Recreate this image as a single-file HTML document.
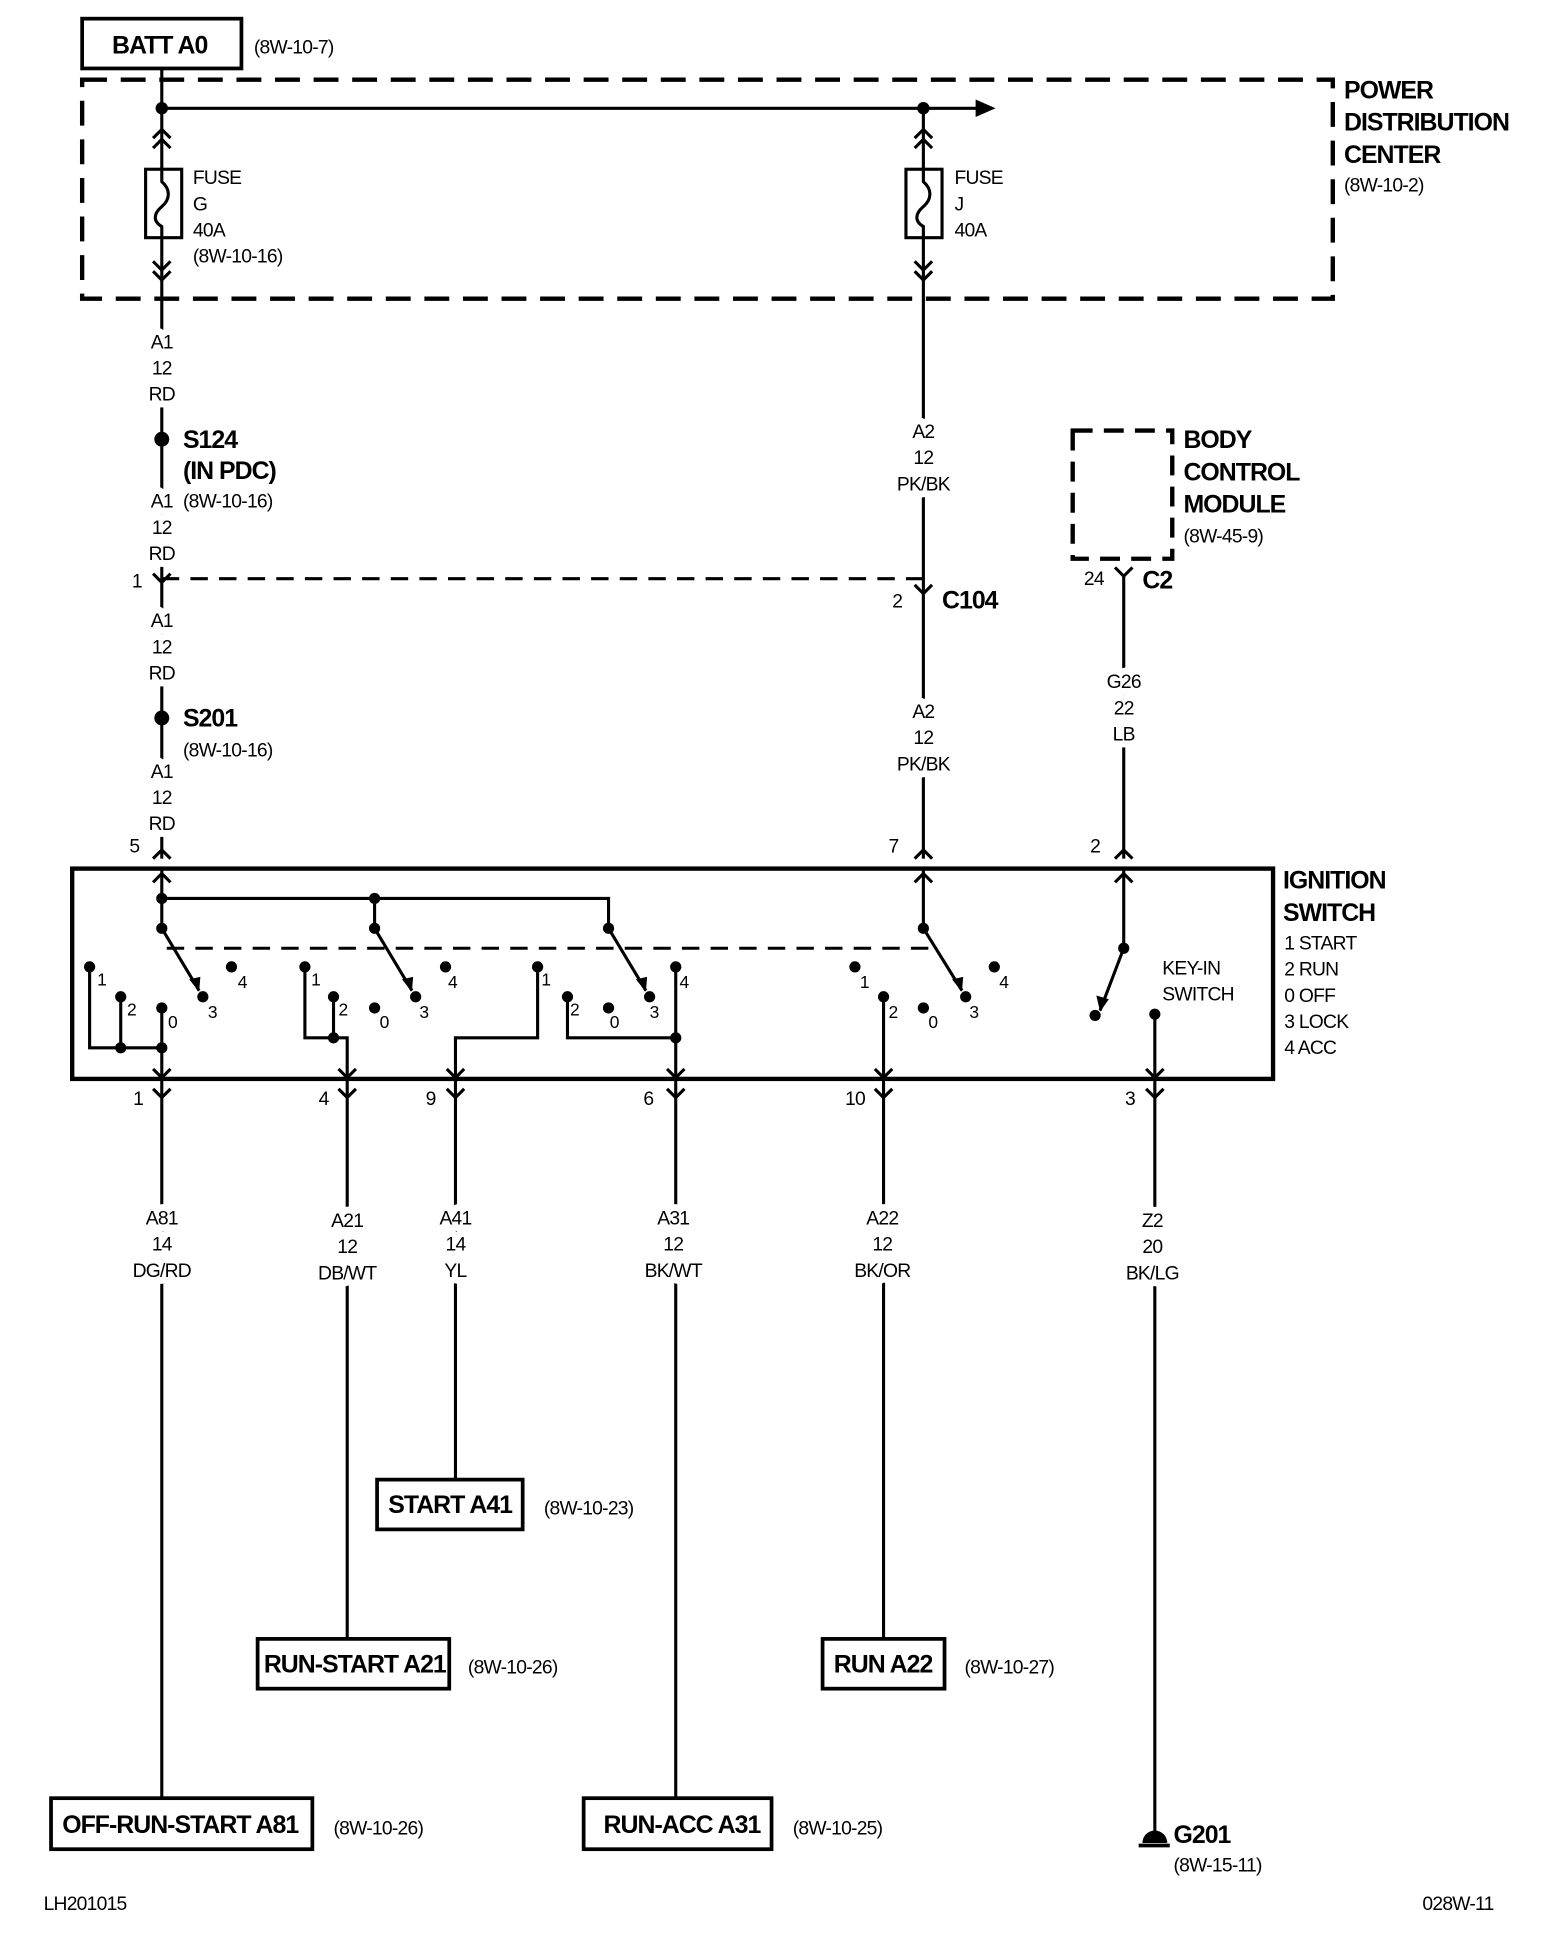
<!DOCTYPE html>
<html><head><meta charset="utf-8"><style>
html,body{margin:0;padding:0;background:#fff}
svg{display:block}
text{font-family:"Liberation Sans",sans-serif;fill:#000}
.s{font-size:15.5px;letter-spacing:-0.6px}
.b{font-size:20px;font-weight:bold;letter-spacing:-0.8px}
.c{text-anchor:middle}
.c text{stroke:#fff;stroke-width:11px;paint-order:stroke;stroke-linejoin:round}
</style></head><body>
<svg width="1568" height="1950" viewBox="0 0 1260 1567" xmlns="http://www.w3.org/2000/svg">
<g fill="none" stroke="#000" stroke-width="2.5">
<rect x="66" y="15" width="128" height="40" stroke-width="3"/>
<rect x="66" y="64" width="1005" height="176" stroke-width="3.5" stroke-dasharray="20,11"/>
<line x1="130" y1="55" x2="130" y2="690"/>
<line x1="130" y1="87" x2="790" y2="87"/>
<line x1="742" y1="87" x2="742" y2="690"/>
<rect x="117" y="136" width="29" height="55" fill="#fff"/>
<path d="M130 136 V146 C137 152 137 160 130 166 C123 172 123 178 130 182 V191"/>
<path d="M123 111 L130 104 L137 111 M123 119 L130 112 L137 119"/>
<path d="M123 210 L130 217 L137 210 M123 218 L130 225 L137 218"/>
<rect x="728" y="136" width="29" height="55" fill="#fff"/>
<path d="M742 136 V146 C749 152 749 160 742 166 C735 172 735 178 742 182 V191"/>
<path d="M735 111 L742 104 L749 111 M735 119 L742 112 L749 119"/>
<path d="M735 210 L742 217 L749 210 M735 218 L742 225 L749 218"/>
<line x1="130" y1="465" x2="742" y2="465" stroke-dasharray="14,9"/>
<path d="M123 461 L130 468 L137 461"/>
<path d="M735 470 L742 477 L749 470"/>
<rect x="862" y="346" width="80" height="103" stroke-width="3.5" stroke-dasharray="16,9"/>
<line x1="903" y1="463" x2="903" y2="690"/>
<path d="M896 456 L903 463 L910 456"/>
<path d="M123 690 L130 683 L137 690"/>
<path d="M735 690 L742 683 L749 690"/>
<path d="M896 690 L903 683 L910 690"/>
<rect x="58" y="698" width="965" height="169" stroke-width="3.5"/>
<path d="M123 709 L130 702 L137 709"/>
<path d="M735 709 L742 702 L749 709"/>
<path d="M896 709 L903 702 L910 709"/>
<line x1="130" y1="698" x2="130" y2="746"/>
<polyline points="130,722 489,722 489,746"/>
<line x1="301" y1="722" x2="301" y2="746"/>
<line x1="742" y1="698" x2="742" y2="746"/>
<line x1="903" y1="698" x2="903" y2="762"/>
<line x1="134" y1="762" x2="749" y2="762" stroke-dasharray="14,9"/>
<line x1="130" y1="746" x2="160" y2="796"/>
<line x1="301" y1="746" x2="331" y2="796"/>
<line x1="489" y1="746" x2="519" y2="796"/>
<line x1="742" y1="746" x2="773" y2="796"/>
<line x1="903" y1="762" x2="884" y2="812"/>
<polyline points="72,777 72,842 130,842"/>
<line x1="97" y1="801" x2="97" y2="842"/>
<line x1="130" y1="810" x2="130" y2="867"/>
<polyline points="245,777 245,834 279,834 279,867"/>
<line x1="268" y1="801" x2="268" y2="834"/>
<polyline points="432,777 432,834 366,834 366,867"/>
<polyline points="456,801 456,834 543,834"/>
<line x1="543" y1="777" x2="543" y2="867"/>
<line x1="710" y1="801" x2="710" y2="867"/>
<line x1="928" y1="815" x2="928" y2="867"/>
<path d="M123 859 L130 866 L137 859 M272 859 L279 866 L286 859 M359 859 L366 866 L373 859 M536 859 L543 866 L550 859 M703 859 L710 866 L717 859 M921 859 L928 866 L935 859"/>
<path d="M123 875 L130 882 L137 875 M272 875 L279 882 L286 875 M359 875 L366 882 L373 875 M536 875 L543 882 L550 875 M703 875 L710 882 L717 875 M921 875 L928 882 L935 875"/>
<line x1="130" y1="867" x2="130" y2="1445"/>
<line x1="279" y1="867" x2="279" y2="1317"/>
<line x1="366" y1="867" x2="366" y2="1189"/>
<line x1="543" y1="867" x2="543" y2="1445"/>
<line x1="710" y1="867" x2="710" y2="1317"/>
<line x1="928" y1="867" x2="928" y2="1472"/>
<rect x="303" y="1189" width="117" height="40" stroke-width="3"/>
<rect x="207" y="1317" width="154" height="40" stroke-width="3"/>
<rect x="661" y="1317" width="98" height="40" stroke-width="3"/>
<rect x="41" y="1445" width="210" height="41" stroke-width="3"/>
<rect x="469" y="1445" width="151" height="41" stroke-width="3"/>
<line x1="915" y1="1483" x2="940" y2="1483" stroke-width="3"/>
</g>
<g fill="#000">
<polygon points="800,87 784,80 784,94"/>
<circle cx="130" cy="87" r="5"/><circle cx="742" cy="87" r="5"/>
<circle cx="130" cy="353" r="6"/><circle cx="130" cy="577" r="6"/>
<circle cx="130" cy="722" r="4.5"/><circle cx="301" cy="722" r="4.5"/>
<circle cx="130" cy="746" r="4.5"/><circle cx="301" cy="746" r="4.5"/><circle cx="489" cy="746" r="4.5"/>
<circle cx="742" cy="746" r="4.5"/><circle cx="903" cy="762" r="4.5"/>
<circle cx="72" cy="777" r="4.5"/><circle cx="97" cy="801" r="4.5"/><circle cx="130" cy="810" r="4.5"/><circle cx="163" cy="801" r="4.5"/><circle cx="186" cy="777" r="4.5"/>
<circle cx="97" cy="842" r="4.5"/><circle cx="130" cy="842" r="4.5"/>
<circle cx="245" cy="777" r="4.5"/><circle cx="268" cy="801" r="4.5"/><circle cx="301" cy="810" r="4.5"/><circle cx="334" cy="801" r="4.5"/><circle cx="358" cy="777" r="4.5"/>
<circle cx="268" cy="834" r="4.5"/>
<circle cx="432" cy="777" r="4.5"/><circle cx="456" cy="801" r="4.5"/><circle cx="489" cy="810" r="4.5"/><circle cx="522" cy="801" r="4.5"/><circle cx="543" cy="777" r="4.5"/>
<circle cx="543" cy="834" r="4.5"/>
<circle cx="687" cy="777" r="4.5"/><circle cx="710" cy="801" r="4.5"/><circle cx="742" cy="810" r="4.5"/><circle cx="776" cy="801" r="4.5"/><circle cx="799" cy="777" r="4.5"/>
<circle cx="880" cy="816" r="4.5"/><circle cx="928" cy="815" r="4.5"/>
<polygon points="160,797 152,787 161,785"/><polygon points="331,797 323,787 332,785"/><polygon points="519,797 511,787 520,785"/><polygon points="773,797 765,787 774,785"/><polygon points="884,813 881,800 891,803"/>
<path d="M918 1481 A10 10 0 0 1 938 1481 Z"/>
</g>
<text class="b" x="90" y="43">BATT A0</text>
<text class="s" x="204" y="43">(8W-10-7)</text>
<text class="b" x="1080" y="79">POWER</text>
<text class="b" x="1080" y="105">DISTRIBUTION</text>
<text class="b" x="1080" y="131">CENTER</text>
<text class="s" x="1080" y="154">(8W-10-2)</text>
<text class="s" x="155" y="148">FUSE</text><text class="s" x="155" y="169">G</text><text class="s" x="155" y="190">40A</text><text class="s" x="155" y="211">(8W-10-16)</text>
<text class="s" x="767" y="148">FUSE</text><text class="s" x="767" y="169">J</text><text class="s" x="767" y="190">40A</text>
<g class="s c">
<text x="130" y="280">A1</text><text x="130" y="301">12</text><text x="130" y="322">RD</text>
<text x="130" y="408">A1</text><text x="130" y="429">12</text><text x="130" y="450">RD</text>
<text x="130" y="504">A1</text><text x="130" y="525">12</text><text x="130" y="546">RD</text>
<text x="130" y="625">A1</text><text x="130" y="646">12</text><text x="130" y="667">RD</text>
<text x="742" y="352">A2</text><text x="742" y="373">12</text><text x="742" y="394">PK/BK</text>
<text x="742" y="577">A2</text><text x="742" y="598">12</text><text x="742" y="619">PK/BK</text>
<text x="903" y="553">G26</text><text x="903" y="574">22</text><text x="903" y="595">LB</text>
<text x="130" y="984">A81</text><text x="130" y="1005">14</text><text x="130" y="1026">DG/RD</text>
<text x="279" y="986">A21</text><text x="279" y="1007">12</text><text x="279" y="1028">DB/WT</text>
<text x="366" y="984">A41</text><text x="366" y="1005">14</text><text x="366" y="1026">YL</text>
<text x="541" y="984">A31</text><text x="541" y="1005">12</text><text x="541" y="1026">BK/WT</text>
<text x="709" y="984">A22</text><text x="709" y="1005">12</text><text x="709" y="1026">BK/OR</text>
<text x="926" y="986">Z2</text><text x="926" y="1007">20</text><text x="926" y="1028">BK/LG</text>
</g>
<text class="b" x="147" y="360">S124</text>
<text class="b" x="147" y="385">(IN PDC)</text>
<text class="s" x="147" y="408">(8W-10-16)</text>
<text class="b" x="147" y="584">S201</text>
<text class="s" x="147" y="608">(8W-10-16)</text>
<text class="s" x="106" y="472">1</text>
<text class="s" x="717" y="488">2</text>
<text class="b" x="757" y="489">C104</text>
<text class="b" x="951" y="360">BODY</text>
<text class="b" x="951" y="386">CONTROL</text>
<text class="b" x="951" y="412">MODULE</text>
<text class="s" x="951" y="436">(8W-45-9)</text>
<text class="s" x="871" y="470">24</text>
<text class="b" x="918" y="473">C2</text>
<text class="s" x="104" y="685">5</text>
<text class="s" x="714" y="685">7</text>
<text class="s" x="876" y="685">2</text>
<text class="b" x="1031" y="714">IGNITION</text>
<text class="b" x="1031" y="740">SWITCH</text>
<text class="s" x="1032" y="763">1 START</text>
<text class="s" x="1032" y="784">2 RUN</text>
<text class="s" x="1032" y="805">0 OFF</text>
<text class="s" x="1032" y="826">3 LOCK</text>
<text class="s" x="1032" y="847">4 ACC</text>
<text class="s" x="934" y="783">KEY-IN</text>
<text class="s" x="934" y="804">SWITCH</text>
<g style="font-size:14px">
<text x="78" y="792">1</text><text x="102" y="816">2</text><text x="135" y="826">0</text><text x="167" y="818">3</text><text x="191" y="794">4</text>
<text x="250" y="792">1</text><text x="272" y="816">2</text><text x="305" y="826">0</text><text x="337" y="818">3</text><text x="360" y="794">4</text>
<text x="435" y="792">1</text><text x="458" y="816">2</text><text x="490" y="826">0</text><text x="522" y="818">3</text><text x="546" y="794">4</text>
<text x="691" y="794">1</text><text x="714" y="818">2</text><text x="746" y="826">0</text><text x="779" y="818">3</text><text x="803" y="794">4</text>
</g>
<text class="s" x="107" y="888">1</text><text class="s" x="256" y="888">4</text><text class="s" x="342" y="888">9</text><text class="s" x="517" y="888">6</text><text class="s" x="679" y="888">10</text><text class="s" x="904" y="888">3</text>
<text class="b" x="312" y="1216">START A41</text>
<text class="s" x="437" y="1217">(8W-10-23)</text>
<text class="b" x="212" y="1344">RUN-START A21</text>
<text class="s" x="376" y="1345">(8W-10-26)</text>
<text class="b" x="670" y="1344">RUN A22</text>
<text class="s" x="775" y="1345">(8W-10-27)</text>
<text class="b" x="50" y="1473">OFF-RUN-START A81</text>
<text class="s" x="268" y="1474">(8W-10-26)</text>
<text class="b" x="485" y="1473">RUN-ACC A31</text>
<text class="s" x="637" y="1474">(8W-10-25)</text>
<text class="b" x="943" y="1481">G201</text>
<text class="s" x="943" y="1504">(8W-15-11)</text>
<text class="s" x="35" y="1535">LH201015</text>
<text class="s" x="1143" y="1535">028W-11</text>
</svg>
</body></html>
